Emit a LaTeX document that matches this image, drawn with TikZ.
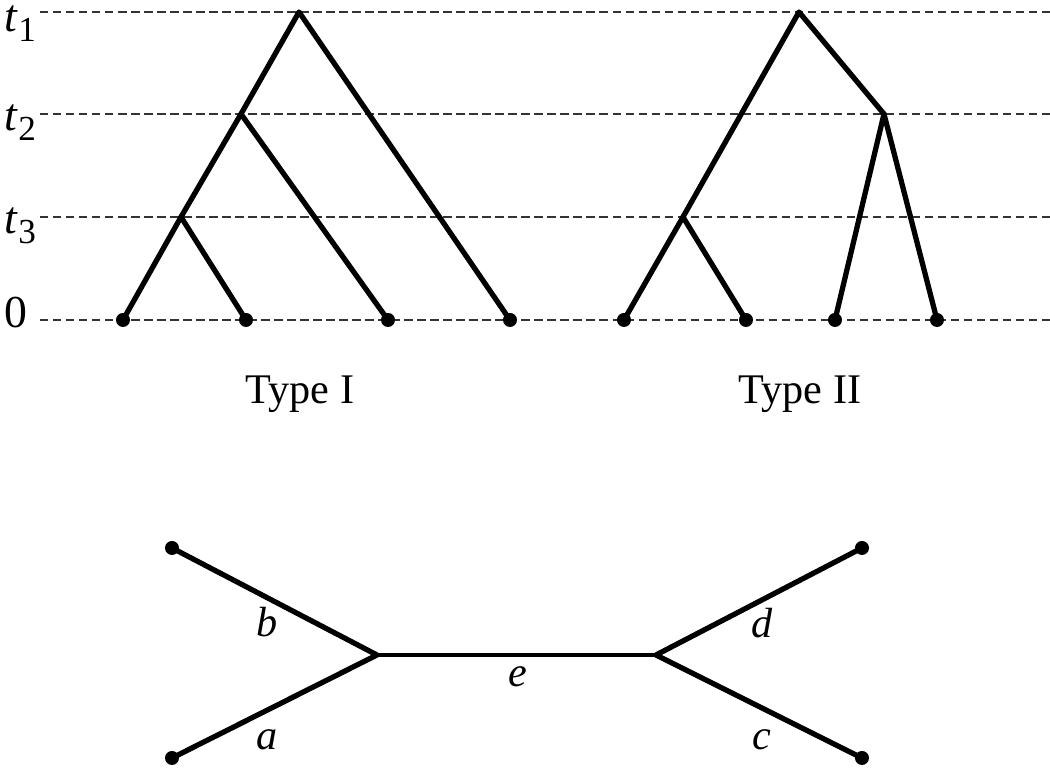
\documentclass[tikz,border=0pt]{standalone}
\usepackage{tikz}
\usepackage{fontspec}
\setmainfont{Liberation Serif}

\tikzset{
  branch/.style={line width=1.5pt, line cap=round, line join=round},
  level/.style={line width=0.5pt, dash pattern=on 2.4pt off 1.3pt, gray!40!black},
  leaf/.style={circle, fill=black, inner sep=0pt, minimum size=0.14cm},
  lbl/.style={inner sep=0pt, anchor=base, font=\fontsize{12}{14}\selectfont},
  tlbl/.style={inner sep=0pt, anchor=base west, font=\fontsize{13}{15}\selectfont},
}
\newcommand{\tsub}[1]{\textit{t}\raisebox{-0.45ex}{\fontsize{10}{12}\selectfont #1}}

\begin{document}
\begin{tikzpicture}[x=0.01cm, y=-0.01cm]
\useasboundingbox (0,0) rectangle (1050,780);

% time levels
\draw [level] (40,12) -- (1050,12);
\draw [level] (40,114) -- (1050,114);
\draw [level] (40,217) -- (1050,217);
\draw [level] (40,320) -- (1050,320);
\node [tlbl] (lt1) at (4,32) {\tsub{1}};
\node [tlbl] (lt2) at (4,131) {\tsub{2}};
\node [tlbl] (lt3) at (4,234) {\tsub{3}};
\node [tlbl] (lzero) at (4,328) {0};

% Type I
\coordinate (r1) at (299,12);
\coordinate (u1) at (241,114);
\coordinate (v1) at (181,217);
\node [leaf] (p1) at (123,320) {};
\node [leaf] (p2) at (246,320) {};
\node [leaf] (p3) at (388,320) {};
\node [leaf] (p4) at (510,320) {};
\draw [branch] (p1.center) -- (v1) -- (u1) -- (r1) -- (p4.center);
\draw [branch] (v1) -- (p2.center);
\draw [branch] (u1) -- (p3.center);
\node [lbl] (typeI) at (300,404) {Type I};

% Type II
\coordinate (r2) at (799,12);
\coordinate (u2) at (884,114);
\coordinate (v2) at (683,217);
\node [leaf] (q1) at (624,320) {};
\node [leaf] (q2) at (746,320) {};
\node [leaf] (q3) at (835,320) {};
\node [leaf] (q4) at (937,320) {};
\draw [branch] (q1.center) -- (v2) -- (r2) -- (u2) -- (q4.center);
\draw [branch] (v2) -- (q2.center);
\draw [branch] (u2) -- (q3.center);
\node [lbl] (typeII) at (800,404) {Type II};

% unrooted tree
\coordinate (m1) at (377,655);
\coordinate (m2) at (656,655);
\node [leaf] (la) at (172,758) {};
\node [leaf] (lb) at (172,548) {};
\node [leaf] (lc) at (862,758) {};
\node [leaf] (ld) at (862,548) {};
\draw [branch] (la.center) -- (m1) -- (lb.center);
\draw [branch] (lc.center) -- (m2) -- (ld.center);
\draw [line width=1.2pt] (m1) -- (m2);
\node [lbl] (ea) at (267,750) {\textit{a}};
\node [lbl] (eb) at (267,637) {\textit{b}};
\node [lbl] (ec) at (762,750) {\textit{c}};
\node [lbl] (ed) at (762,638) {\textit{d}};
\node [lbl] (ee) at (518,687) {\textit{e}};

\end{tikzpicture}
\end{document}
